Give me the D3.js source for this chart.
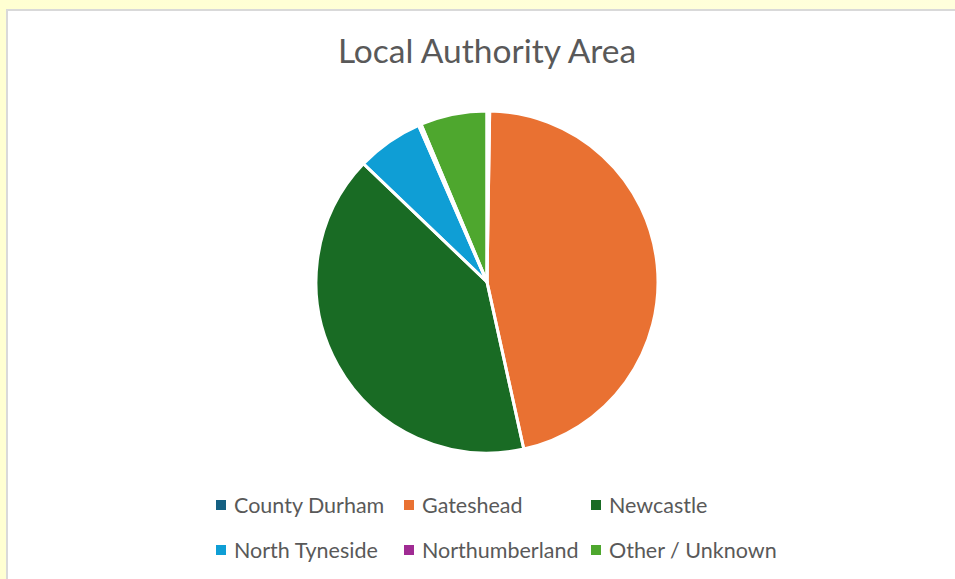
<!DOCTYPE html>
<html><head><meta charset="utf-8">
<script src="https://cdn.jsdelivr.net/npm/d3@7/dist/d3.min.js"></script>
<style>
html,body{margin:0;padding:0;background:#FFFFD6;}
svg{display:block;}
</style></head>
<body>
<script>
const categories = ["County Durham","Gateshead","Newcastle","North Tyneside","Northumberland","Other / Unknown"];
const values = [0.25,46.3,40.6,6.3,0.25,6.3];
const colors = ["#156082","#E97132","#196B24","#0F9ED5","#A02B93","#4EA72E"];
const title = "Local Authority Area";

const W=955,H=579;
const svg=d3.select("body").append("svg").attr("width",W).attr("height",H);
const defs=svg.append("defs");
const g0=defs.append("linearGradient").attr("id","bg").attr("x1","0").attr("y1","0").attr("x2","1").attr("y2","0");
g0.append("stop").attr("offset","0").attr("stop-color","#FFFFD2");
g0.append("stop").attr("offset","1").attr("stop-color","#FFFFDC");
svg.append("rect").attr("width",W).attr("height",H).attr("fill","url(#bg)");
svg.append("rect").attr("x",7).attr("y",10).attr("width",W).attr("height",H).attr("fill","#fff").attr("stroke","#d9d9d9").attr("stroke-width",2);

svg.append("text").attr("x",487).attr("y",63).attr("text-anchor","middle")
  .attr("font-family","Lato, 'Noto Sans', sans-serif").attr("font-size",33.5).attr("fill","#595959").text(title);

const data=categories.map((c,i)=>({c,v:values[i],col:colors[i]}));
const pie=d3.pie().sort(null).value(d=>d.v);
const arcs=pie(data);
const arc=d3.arc().innerRadius(0).outerRadius(171);
const pg=svg.append("g").attr("transform","translate(487,282)");
pg.selectAll("path.f").data(arcs).join("path").attr("class","f")
  .attr("d",arc).attr("fill",d=>d.data.col);
pg.selectAll("path.s").data(arcs).join("path").attr("class","s")
  .attr("d",arc).attr("fill","none").attr("stroke","#fff").attr("stroke-width",3).attr("stroke-linejoin","round");

const colX=[216,404,591], rowY=[505,550];
const lg=svg.append("g").selectAll("g").data(data).join("g")
  .attr("transform",(d,i)=>`translate(${colX[i%3]},${rowY[Math.floor(i/3)]})`);
lg.append("rect").attr("x",0).attr("y",-5).attr("width",10).attr("height",10).attr("fill",d=>d.col);
lg.append("text").attr("x",18).attr("y",8).attr("font-family","Lato, 'Noto Sans', sans-serif").attr("font-size",21.5).attr("fill","#595959").text(d=>d.c);
</script>
</body></html>
